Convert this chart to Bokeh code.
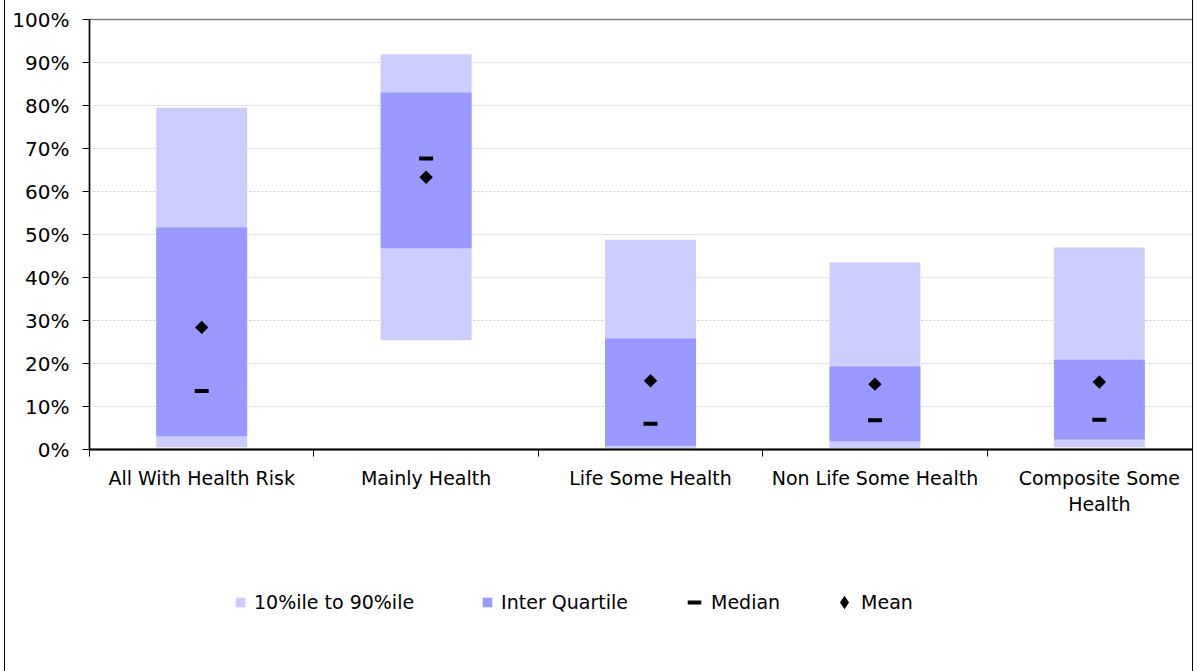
import math
from bokeh.plotting import figure
from bokeh.layouts import column
from bokeh.models import Range1d, FixedTicker, Legend, LegendItem
from bokeh.embed import file_html
from bokeh.resources import INLINE

# ---- data ----
categories = ["All With Health Risk", "Mainly Health", "Life Some Health",
              "Non Life Some Health", "Composite Some\nHealth"]
p10 = [0.005, 0.254, 0.001, 0.003, 0.005]
p25 = [0.031, 0.468, 0.009, 0.019, 0.023]
p75 = [0.516, 0.830, 0.258, 0.193, 0.209]
p90 = [0.795, 0.919, 0.488, 0.435, 0.470]
median = [0.136, 0.677, 0.060, 0.068, 0.069]
mean = [0.284, 0.633, 0.160, 0.152, 0.157]
y_ticks = [0, 0.1, 0.2, 0.3, 0.4, 0.5, 0.6, 0.7, 0.8, 0.9, 1.0]
y_tick_labels = ["0%", "10%", "20%", "30%", "40%", "50%", "60%", "70%", "80%", "90%", "100%"]
legend_labels = ["10%ile to 90%ile", "Inter Quartile", "Median", "Mean"]

x_centers = [i + 0.5 for i in range(len(categories))]
x_bounds = list(range(len(categories) + 1))

FONT = "DejaVu Sans"
LIGHT = "#ccccff"
DARK = "#9999ff"
BORDER = {"border-left": "1px solid black", "border-right": "1px solid black"}

# ---- main chart ----
p = figure(width=1189, height=530, output_backend="svg", toolbar_location=None,
           x_range=Range1d(0, 4.924), y_range=Range1d(0, 1),
           min_border_left=84, min_border_right=0, min_border_top=19,
           min_border_bottom=81)
p.styles = BORDER
p.background_fill_color = "white"
p.border_fill_color = "white"
p.outline_line_color = "#808080"
p.outline_line_width = 1.5

p.vbar(x=x_centers, width=0.405, bottom=p10, top=p90,
       fill_color=LIGHT, line_color=None)
p.vbar(x=x_centers, width=0.405, bottom=p25, top=p75,
       fill_color=DARK, line_color=None)
p.scatter(x=x_centers, y=median, marker="dash", size=14,
          line_color="black", line_width=4)
p.scatter(x=x_centers, y=mean, marker="square", size=9.5,
          angle=math.pi / 4, fill_color="black", line_color=None)

p.xaxis.ticker = FixedTicker(ticks=x_centers, minor_ticks=x_bounds)
p.xaxis.major_label_overrides = {c: lab for c, lab in zip(x_centers, categories)}
p.xaxis.major_tick_line_color = None
p.xaxis.major_tick_out = 0
p.xaxis.major_tick_in = 0
p.xaxis.minor_tick_line_color = "black"
p.xaxis.minor_tick_out = 7
p.xaxis.minor_tick_in = 0
p.xaxis.axis_line_color = "black"
p.xaxis.axis_line_width = 2
p.xaxis.major_label_standoff = 10
p.xaxis.major_label_text_font = FONT
p.xaxis.major_label_text_font_size = "19px"
p.xaxis.major_label_text_color = "black"

p.yaxis.ticker = FixedTicker(ticks=y_ticks)
p.yaxis.major_label_overrides = {t: lab for t, lab in zip(y_ticks, y_tick_labels)}
p.yaxis.major_tick_out = 7
p.yaxis.major_tick_in = 0
p.yaxis.major_tick_line_color = "black"
p.yaxis.minor_tick_line_color = None
p.yaxis.axis_line_color = "black"
p.yaxis.axis_line_width = 1.5
p.yaxis.major_label_standoff = 13
p.yaxis.major_label_text_font = FONT
p.yaxis.major_label_text_font_size = "20px"
p.yaxis.major_label_text_color = "black"

p.xgrid.visible = False
p.ygrid.grid_line_color = "#c8c8f0"
p.ygrid.grid_line_dash = "2 2"
p.ygrid.grid_line_width = 1

# ---- legend strip ----
lf = figure(width=1189, height=141, output_backend="svg", toolbar_location=None,
            x_range=Range1d(0, 1), y_range=Range1d(0, 1),
            x_axis_location=None, y_axis_location=None,
            min_border_left=84, min_border_right=0, min_border_top=0,
            min_border_bottom=0)
lf.styles = BORDER
lf.outline_line_color = None
lf.grid.visible = False
lf.background_fill_color = "white"
lf.border_fill_color = "white"

# key renderers: same series, hidden in the strip, only their legend swatches show
k_light = lf.vbar(x=x_centers, width=0.4, bottom=p10, top=p90,
                  fill_color=LIGHT, line_color=None, visible=False)
k_iq = lf.vbar(x=x_centers, width=0.4, bottom=p25, top=p75,
               fill_color=DARK, line_color=None, visible=False)
k_med = lf.scatter(x=x_centers, y=median, marker="dash",
                   line_color="black", line_width=4, visible=False)
k_mean = lf.scatter(x=x_centers, y=mean, marker="diamond",
                    fill_color="black", line_color=None, visible=False)

common = dict(orientation="horizontal", padding=0, margin=0,
              border_line_color=None, background_fill_alpha=0,
              inactive_fill_alpha=0,
              label_text_font=FONT, label_text_font_size="19px",
              label_text_color="black")
legA = Legend(items=[LegendItem(label=legend_labels[0], renderers=[k_light]),
                     LegendItem(label=legend_labels[1], renderers=[k_iq])],
              location=(145, 58), glyph_width=12, glyph_height=12,
              label_standoff=8, spacing=67, **common)
legB = Legend(items=[LegendItem(label=legend_labels[2], renderers=[k_med]),
                     LegendItem(label=legend_labels[3], renderers=[k_mean])],
              location=(588, 52), glyph_width=34, glyph_height=34,
              label_standoff=0, spacing=47, **common)
lf.add_layout(legA)
lf.add_layout(legB)

layout = column(p, lf, spacing=0)
layout.styles = {"margin-left": "4px"}

open("out.html", "w").write(file_html(layout, INLINE))
